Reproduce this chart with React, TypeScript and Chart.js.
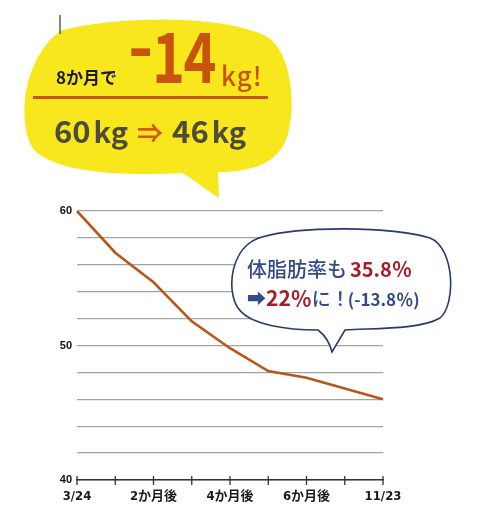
import React, { useEffect, useRef } from "react";
import { Chart, registerables } from "chart.js";
Chart.register(...registerables);

const months = ["3/24", "", "2か月後", "", "4か月後", "", "6か月後", "", "11/23"];
const weights = [60, 56.9, 54.7, 51.8, 49.8, 48.1, 47.6, 46.8, 46];
const yLabeled = [60, 50, 40];
const yMin = 40;
const yMax = 60;
const yStep = 2;

const JP = '"Noto Sans CJK JP", "Noto Sans", sans-serif';
const NARROW = '"Liberation Sans Narrow", "Arial Narrow", "DejaVu Sans Condensed", "Noto Sans CJK JP", sans-serif';

const tickMarks = {
  id: "tickMarks",
  afterDraw(chart: any) {
    const xs = chart.scales.x;
    const ctx = chart.ctx;
    const y = chart.chartArea.bottom;
    ctx.save();
    ctx.strokeStyle = "#333";
    ctx.lineWidth = 1.3;
    for (let i = 0; i < xs.ticks.length; i++) {
      const px = xs.getPixelForTick(i);
      ctx.beginPath();
      ctx.moveTo(px, y - 4);
      ctx.lineTo(px, y + 5);
      ctx.stroke();
    }
    ctx.restore();
  },
};

function WeightChart() {
  const ref = useRef<HTMLCanvasElement>(null);
  useEffect(() => {
    if (!ref.current) return;
    const chart = new Chart(ref.current, {
      type: "line",
      data: {
        labels: months,
        datasets: [
          {
            data: weights,
            borderColor: "#b9571b",
            borderWidth: 2.6,
            pointRadius: 0,
            tension: 0,
            fill: false,
          },
        ],
      },
      options: {
        animation: false,
        responsive: false,
        devicePixelRatio: 1,
        layout: { padding: { left: 47, right: 104, top: 211, bottom: 0 } },
        plugins: { legend: { display: false }, tooltip: { enabled: false } },
        scales: {
          x: {
            afterFit: (s: any) => {
              s.height = 38;
            },
            grid: { display: false, drawTicks: false },
            border: { display: true, color: "#333", width: 1.5 },
            ticks: {
              autoSkip: false,
              maxRotation: 0,
              padding: 9,
              color: "#1a1a1a",
              font: { family: NARROW, size: 13, weight: "bold" },
            },
          },
          y: {
            min: yMin,
            max: yMax,
            afterFit: (s: any) => {
              s.width = 30;
            },
            grid: { color: "#a3a3a3", lineWidth: 1.3, drawTicks: false },
            border: { display: false },
            ticks: {
              stepSize: yStep,
              padding: 5,
              color: "#111",
              font: { family: '"Liberation Sans", Arial, sans-serif', size: 11, weight: "bold" },
              callback: (v: any) => (yLabeled.includes(Number(v)) ? String(v) : ""),
            },
          },
        },
      },
      plugins: [tickMarks],
    });
    return () => chart.destroy();
  }, []);
  return (
    <canvas
      ref={ref}
      width={487}
      height={518}
      style={{ position: "absolute", left: 0, top: 0, width: 487, height: 518 }}
    />
  );
}

const abs = (left: number, top: number, extra: React.CSSProperties = {}): React.CSSProperties => ({
  position: "absolute",
  left,
  top,
  whiteSpace: "nowrap",
  lineHeight: 1,
  ...extra,
});

export default function App() {
  return (
    <div
      style={{
        position: "absolute",
        left: 0,
        top: 0,
        width: 487,
        height: 518,
        background: "#fff",
        overflow: "hidden",
        fontFamily: JP,
      }}
    >
      <WeightChart />
      <svg width={487} height={518} style={{ position: "absolute", left: 0, top: 0 }}>
        <path
          d="M 62,30 C 120,16 220,14 266,36 C 292,52 296,104 288,134 C 280,162 255,172 218,172 L 219,198 C 206,190 195,180 182,173 C 130,176 62,174 36,152 C 16,132 20,58 62,30 Z"
          fill="#f9e71d"
        />
        <line x1={60} y1={15} x2={60} y2={34} stroke="#333" strokeWidth={1.2} />
        <line x1={33} y1={97.5} x2={268} y2={97.5} stroke="#c4570f" strokeWidth={3.2} />
        <path
          d="M 262,237 C 300,226 390,226 430,238 C 455,248 456,305 440,318 C 420,330 370,328 345,330 L 332,352 C 330,344 326,336 318,330 C 290,330 250,326 238,308 C 226,290 230,246 262,237 Z"
          fill="#fff"
          stroke="#2b3b69"
          strokeWidth={1.6}
        />
      </svg>
      <div style={abs(56, 68, { fontSize: 17, fontWeight: 700, color: "#1b1b1b" })}>8か月で</div>
      <div
        style={abs(128, 6, {
          fontSize: 72,
          fontWeight: 700,
          color: "#c8530f",
          transform: "scaleX(0.95)",
          transformOrigin: "left top",
        })}
      >
        -
      </div>
      <div
        style={abs(152, 18, {
          fontSize: 70,
          fontWeight: 700,
          color: "#c8530f",
          transform: "scaleX(0.8)",
          transformOrigin: "left top",
          letterSpacing: -2,
        })}
      >
        14
      </div>
      <div style={abs(221, 62, { fontSize: 26, fontWeight: 500, color: "#c8530f", letterSpacing: 1 })}>kg!</div>
      <div style={abs(54, 114, { fontSize: 31, fontWeight: 700, color: "#4d4b3a" })}>
        60<span style={{ fontSize: 29, marginLeft: 3 }}>kg</span>
        <span style={{ color: "#d2580f", margin: "0 9px", fontSize: 26 }}>⇒</span>
        46<span style={{ fontSize: 29, marginLeft: 3 }}>kg</span>
      </div>
      <div style={abs(247, 259, { fontSize: 20, fontWeight: 500, color: "#34498a" })}>
        体脂肪率も
        <span style={{ color: "#a81c2b", fontWeight: 700, marginLeft: 3 }}>35.8％</span>
      </div>
      <div style={abs(247, 287, { fontSize: 19, fontWeight: 500, color: "#34498a" })}>
        ➡<span style={{ color: "#a81c2b", fontWeight: 700, fontSize: 21 }}>22％</span>に！
        <span style={{ fontSize: 17, fontWeight: 700, marginLeft: -2 }}>(-13.8％)</span>
      </div>
    </div>
  );
}
